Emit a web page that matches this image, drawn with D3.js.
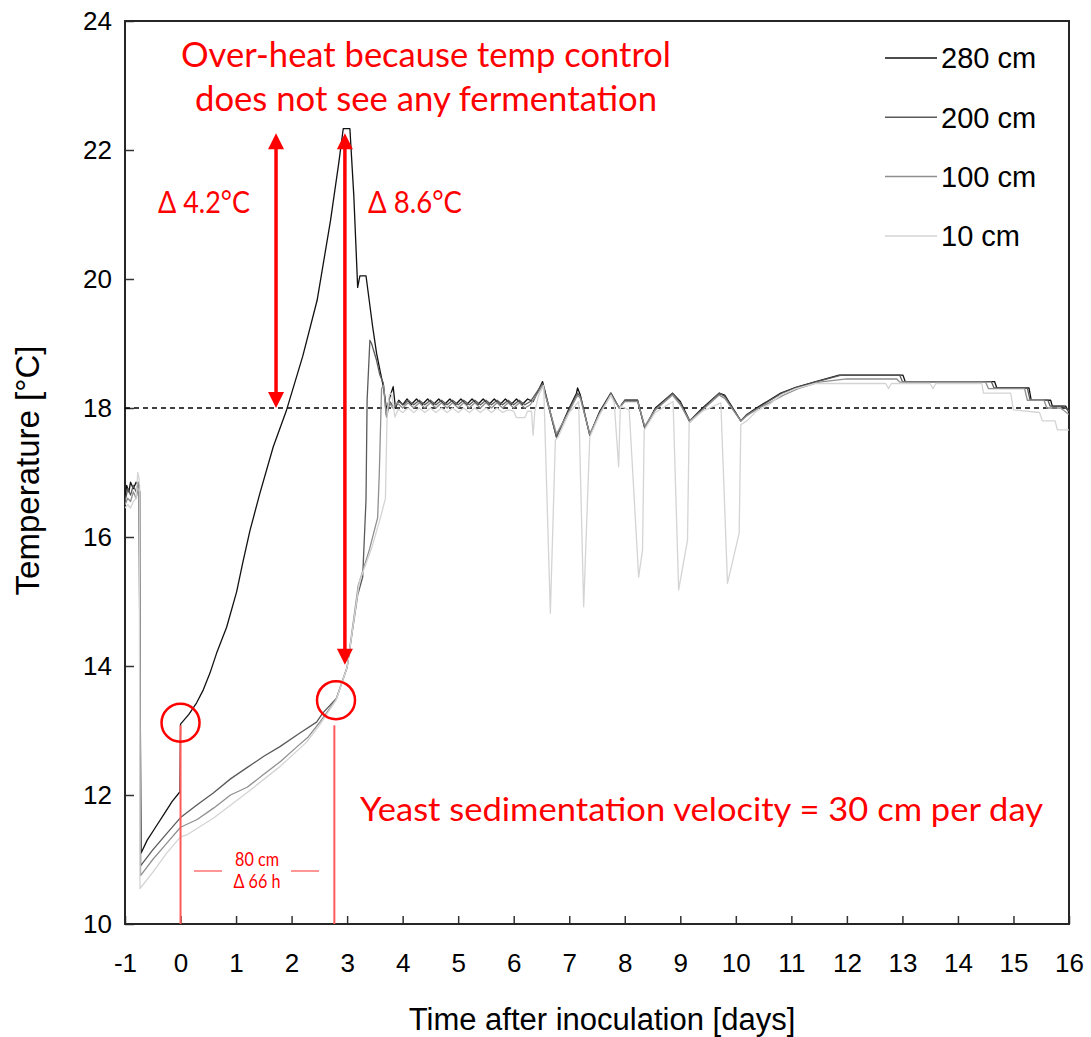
<!DOCTYPE html>
<html>
<head>
<meta charset="utf-8">
<script src="https://cdn.jsdelivr.net/npm/d3@7"></script>
<style>
  body { margin: 0; background: #fff; }
</style>
</head>
<body>
<div class="chart"></div>
<script>

/////////////DATA (day, °C)//////////////////////////////

var labels = ['280 cm', '200 cm', '100 cm', '10 cm'];
var colors = ['#111111', '#5a5a5a', '#8f8f8f', '#d4d4d4'];
var xTicks = d3.range(-1, 17);
var yTicks = [10, 12, 14, 16, 18, 20, 22, 24];
var setPoint = 18;

var s280 = [
  [-1.0, 16.6], [-0.97, 16.8], [-0.93, 16.7], [-0.9, 16.85], [-0.85, 16.75], [-0.8, 16.85], [-0.75, 16.8],
  [-0.71, 11.1], [-0.6, 11.3], [-0.45, 11.5], [-0.3, 11.7], [-0.15, 11.9], [-0.01, 12.05],
  [0.0, 13.1], [0.15, 13.25], [0.29, 13.43], [0.41, 13.63], [0.53, 13.89], [0.65, 14.2], [0.83, 14.6],
  [1.01, 15.15], [1.12, 15.6], [1.25, 16.1], [1.43, 16.68], [1.67, 17.4], [1.91, 17.97], [2.2, 18.8],
  [2.46, 19.67], [2.7, 20.9], [2.85, 21.8], [2.93, 22.33], [3.05, 22.33], [3.12, 21.3], [3.19, 19.87],
  [3.23, 20.05], [3.34, 20.05], [3.46, 19.26], [3.53, 18.85], [3.6, 18.55], [3.66, 18.3], [3.71, 17.97],
  [3.77, 18.17], [3.83, 18.33], [3.87, 18.0], [3.93, 18.12], [4.0, 18.05], [4.08, 18.14], [4.15, 18.05],
  [4.25, 18.14], [4.35, 18.05], [4.45, 18.14], [4.55, 18.05], [4.65, 18.14], [4.75, 18.05], [4.85, 18.14],
  [4.95, 18.05], [5.05, 18.14], [5.15, 18.05], [5.25, 18.14], [5.35, 18.05], [5.45, 18.14], [5.55, 18.05],
  [5.65, 18.14], [5.75, 18.05], [5.85, 18.14], [5.95, 18.05], [6.05, 18.14], [6.15, 18.05], [6.25, 18.14],
  [6.35, 18.1], [6.52, 18.41], [6.77, 17.55], [7.0, 18.0], [7.13, 18.23], [7.15, 18.31], [7.2, 18.2],
  [7.37, 17.58], [7.55, 17.95], [7.75, 18.23], [7.9, 18.0], [8.0, 18.12], [8.23, 18.12], [8.36, 17.69],
  [8.55, 18.0], [8.86, 18.23], [9.0, 18.1], [9.17, 17.8], [9.4, 18.0], [9.7, 18.23], [9.8, 18.2],
  [10.09, 17.8], [10.2, 17.9], [10.37, 18.0], [10.6, 18.12], [10.81, 18.23], [11.08, 18.32],
  [11.44, 18.41], [11.86, 18.51], [13.01, 18.51], [13.05, 18.41], [14.66, 18.41], [14.7, 18.31],
  [15.28, 18.31], [15.32, 18.12], [15.67, 18.12], [15.7, 18.03], [15.94, 18.03], [16.0, 17.93]
];

var s200 = [
  [-1.0, 16.55], [-0.95, 16.75], [-0.9, 16.65], [-0.85, 16.8], [-0.8, 16.7], [-0.76, 16.85], [-0.74, 16.8],
  [-0.72, 10.9], [-0.5, 11.15], [-0.25, 11.4], [0.0, 11.65], [0.3, 11.85], [0.59, 12.03], [0.9, 12.25],
  [1.19, 12.42], [1.5, 12.6], [1.79, 12.75], [2.15, 12.96], [2.45, 13.13], [2.56, 13.27], [2.81, 13.5],
  [3.0, 13.98], [3.19, 15.1], [3.28, 15.38], [3.34, 16.57], [3.36, 18.12], [3.41, 19.05], [3.44, 19.0],
  [3.53, 18.74], [3.59, 18.51], [3.65, 18.39], [3.71, 17.86], [3.77, 18.1], [3.85, 18.0], [3.92, 18.1],
  [4.02, 18.05], [4.1, 18.12], [4.2, 18.05], [4.3, 18.12], [4.4, 18.05], [4.5, 18.12], [4.6, 18.05],
  [4.7, 18.12], [4.8, 18.05], [4.9, 18.12], [5.0, 18.05], [5.1, 18.12], [5.2, 18.05], [5.3, 18.12],
  [5.4, 18.05], [5.5, 18.12], [5.6, 18.05], [5.7, 18.12], [5.8, 18.05], [5.9, 18.12], [6.0, 18.05],
  [6.1, 18.12], [6.2, 18.05], [6.3, 18.1], [6.52, 18.38], [6.77, 17.55], [7.0, 17.98], [7.15, 18.23],
  [7.2, 18.18], [7.37, 17.58], [7.55, 17.93], [7.75, 18.23], [7.9, 18.0], [8.0, 18.12], [8.23, 18.12],
  [8.36, 17.69], [8.55, 17.98], [8.86, 18.23], [9.0, 18.08], [9.17, 17.78], [9.4, 17.98], [9.7, 18.23],
  [9.8, 18.18], [10.09, 17.8], [10.2, 17.9], [10.4, 18.0], [10.62, 18.12], [10.83, 18.23], [11.1, 18.32],
  [11.46, 18.41], [11.9, 18.51], [12.95, 18.51], [13.0, 18.41], [14.6, 18.41], [14.65, 18.31],
  [15.25, 18.31], [15.3, 18.12], [15.62, 18.12], [15.66, 18.03], [15.9, 18.03], [16.0, 17.95]
];

var s100 = [
  [-1.0, 16.5], [-0.95, 16.6], [-0.9, 16.55], [-0.85, 16.7], [-0.8, 16.6], [-0.76, 16.75], [-0.73, 16.7],
  [-0.72, 10.75], [-0.5, 11.0], [-0.25, 11.25], [0.0, 11.5], [0.3, 11.62], [0.6, 11.8], [0.9, 12.0],
  [1.2, 12.12], [1.5, 12.32], [1.8, 12.52], [2.1, 12.75], [2.3, 12.9], [2.5, 13.12], [2.8, 13.48],
  [3.0, 13.98], [3.2, 15.25], [3.4, 15.8], [3.55, 16.3], [3.58, 17.0], [3.62, 18.3], [3.66, 18.35],
  [3.7, 17.9], [3.75, 18.1], [3.82, 18.0], [3.9, 18.08], [4.0, 18.0], [4.1, 18.08], [4.2, 18.0],
  [4.3, 18.08], [4.4, 18.0], [4.5, 18.08], [4.6, 18.0], [4.7, 18.08], [4.8, 18.0], [4.9, 18.08],
  [5.0, 18.0], [5.1, 18.08], [5.2, 18.0], [5.3, 18.08], [5.4, 18.0], [5.5, 18.08], [5.6, 18.0],
  [5.7, 18.08], [5.8, 18.0], [5.9, 18.08], [6.0, 18.0], [6.1, 18.08], [6.2, 18.0], [6.3, 18.05],
  [6.52, 18.35], [6.77, 17.6], [7.0, 17.95], [7.15, 18.2], [7.2, 18.15], [7.37, 17.6], [7.55, 17.92],
  [7.75, 18.2], [7.9, 18.0], [8.0, 18.1], [8.23, 18.1], [8.36, 17.72], [8.55, 17.97], [8.86, 18.2],
  [9.0, 18.05], [9.17, 17.8], [9.4, 17.97], [9.7, 18.2], [9.8, 18.15], [10.09, 17.8], [10.2, 17.88],
  [10.42, 18.0], [10.65, 18.1], [10.86, 18.2], [11.12, 18.3], [11.5, 18.4], [12.0, 18.45], [12.9, 18.45],
  [12.95, 18.4], [14.5, 18.4], [14.55, 18.3], [15.2, 18.3], [15.25, 18.12], [15.55, 18.12],
  [15.6, 18.0], [15.85, 18.0], [16.0, 17.9]
];

var s10 = [
  [-1.0, 16.45], [-0.95, 16.5], [-0.9, 16.45], [-0.85, 16.55], [-0.8, 16.6], [-0.77, 17.0], [-0.745, 16.9],
  [-0.73, 10.55], [-0.5, 10.8], [-0.25, 11.1], [0.0, 11.35], [0.11, 11.38], [0.59, 11.64], [1.19, 12.03],
  [1.79, 12.44], [2.27, 12.82], [2.51, 13.09], [2.8, 13.47], [3.0, 13.98], [3.22, 15.3], [3.45, 15.85],
  [3.6, 16.3], [3.69, 16.6], [3.72, 17.9], [3.76, 18.2], [3.8, 18.23], [3.86, 17.86], [3.92, 17.98],
  [4.0, 17.93], [4.1, 18.0], [4.2, 17.93], [4.3, 18.0], [4.4, 17.93], [4.5, 18.0], [4.6, 17.93],
  [4.7, 18.0], [4.8, 17.93], [4.9, 18.0], [5.0, 17.93], [5.1, 18.0], [5.2, 17.93], [5.3, 18.0],
  [5.4, 17.93], [5.5, 18.0], [5.6, 17.93], [5.7, 18.0], [5.8, 17.93], [5.9, 17.97], [6.0, 17.95],
  [6.05, 17.85], [6.2, 17.85], [6.25, 17.95], [6.32, 17.95], [6.35, 17.58], [6.38, 17.95], [6.45, 18.2],
  [6.54, 18.35], [6.66, 14.82], [6.75, 17.5], [6.8, 17.55], [7.0, 17.93], [7.17, 18.1], [7.26, 14.92],
  [7.37, 17.55], [7.55, 17.9], [7.75, 18.2], [7.81, 18.08], [7.89, 17.09], [7.92, 18.03], [8.08, 17.97],
  [8.25, 15.38], [8.32, 15.8], [8.35, 17.66], [8.55, 17.93], [8.87, 18.1], [8.97, 15.18], [9.13, 15.95],
  [9.16, 17.77], [9.4, 17.95], [9.73, 18.08], [9.85, 15.28], [10.06, 16.06], [10.09, 17.74],
  [10.2, 17.8], [10.37, 17.95], [10.6, 18.05], [10.81, 18.2], [11.08, 18.3], [11.44, 18.38],
  [12.7, 18.38], [12.75, 18.3], [12.8, 18.38], [13.5, 18.38], [13.55, 18.3], [13.6, 18.38],
  [14.43, 18.38], [14.46, 18.23], [14.95, 18.23], [15.0, 17.97], [15.47, 17.93], [15.52, 17.8],
  [15.75, 17.8], [15.79, 17.66], [16.0, 17.66]
];

var series = [s280, s200, s100, s10];

/////////////CHART FRAME///////////////////////////////////////////////////////

var margin = { top: 21, right: 22, bottom: 113, left: 125 };
var width = 1091 - margin.left - margin.right;
var height = 1037 - margin.top - margin.bottom;
var axisFont = '"Liberation Sans", Arial, sans-serif';

var svg = d3.select('.chart')
  .append('svg')
  .attr('width', width + margin.left + margin.right)
  .attr('height', height + margin.top + margin.bottom)
  .style('font-family', axisFont)
  .append('g')
  .attr('transform', 'translate(' + margin.left + ',' + margin.top + ')');

var xScale = d3.scaleLinear().domain([-1, 16]).range([0, width]);
var yScale = d3.scaleLinear().domain([10, 24]).range([height, 0]);

svg.append('clipPath').attr('id', 'plot')
  .append('rect').attr('width', width).attr('height', height);

// x axis, ticks pointing inward
var xAxis = svg.append('g')
  .attr('transform', `translate(0, ${height})`)
  .call(d3.axisBottom(xScale).tickValues(xTicks).tickSizeInner(-8).tickSizeOuter(0).tickPadding(30)
    .tickFormat(d => d < 0 ? '-' + Math.abs(d) : d));

var yAxis = svg.append('g')
  .call(d3.axisLeft(yScale).tickValues(yTicks).tickSizeInner(-9).tickSizeOuter(0).tickPadding(13));

[xAxis, yAxis].forEach(g => {
  g.select('.domain').remove();
  g.selectAll('line').style('stroke', '#333').style('stroke-width', 1.5);
  g.selectAll('text').style('font-size', '26px').style('fill', '#000')
    .style('font-family', axisFont);
});

svg.append('rect')
  .attr('width', width)
  .attr('height', height)
  .style('fill', 'none')
  .style('stroke', '#262626')
  .style('stroke-width', 2);

svg.append('text')
  .attr('x', width / 2 + 5)
  .attr('y', height + 106)
  .style('text-anchor', 'middle')
  .style('font-size', '31px')
  .text('Time after inoculation [days]');

svg.append('text')
  .attr('transform', 'translate(' + (-86) + ',' + (height / 2 - 2) + ') rotate(-90)')
  .style('text-anchor', 'middle')
  .style('font-size', '33px')
  .text('Temperature [°C]');

// 18 °C set point
svg.append('line')
  .attr('x1', 0).attr('x2', width)
  .attr('y1', yScale(setPoint)).attr('y2', yScale(setPoint))
  .style('stroke', '#000')
  .style('stroke-width', 1.5)
  .style('stroke-dasharray', '5,4');

/////////////SERIES////////////////////////////////////////////////////////////

var line = d3.line()
  .x(d => xScale(d[0]))
  .y(d => yScale(d[1]));

svg.append('g').attr('clip-path', 'url(#plot)')
  .selectAll('.line')
  .data(series)
  .enter()
  .append('path')
  .attr('class', 'line')
  .attr('d', d => line(d))
  .style('stroke', (d, i) => colors[i])
  .style('stroke-width', 1.3)
  .style('fill', 'none')
  .style('stroke-linejoin', 'round');

// legend
var legend = svg.selectAll('.legend')
  .data(labels)
  .enter()
  .append('g')
  .attr('class', 'legend')
  .attr('transform', (d, i) => 'translate(760,' + (37 + i * 59.3) + ')');

legend.append('line')
  .attr('x1', 0).attr('x2', 52)
  .style('stroke', (d, i) => colors[i])
  .style('stroke-width', 1.5);

legend.append('text')
  .attr('x', 56)
  .attr('dy', '0.36em')
  .style('font-size', '29px')
  .text(d => d);

/////////////RED ANNOTATIONS///////////////////////////////////////////////////

var red = '#ff0000';
var note = svg.append('g').style('font-family', 'Lato, "Open Sans", sans-serif').style('fill', red);

// Calibri is narrower than Lato, so each string is held to its width in the picture
function redText(txt, x, y, size, len) {
  note.append('text')
    .attr('x', x).attr('y', y)
    .attr('textLength', len)
    .attr('lengthAdjust', 'spacingAndGlyphs')
    .style('font-size', size + 'px')
    .style('text-anchor', 'middle')
    .text(txt);
}

redText('Over-heat because temp control', 301, 46, 34, 490);
redText('does not see any fermentation', 301, 90, 34, 462);
redText('Δ 4.2°C', 79, 192, 30, 92);
redText('Δ 8.6°C', 290, 192, 30, 94);
redText('Yeast sedimentation velocity = 30 cm per day', 576.5, 800, 33, 683);
redText('80 cm', 132, 845, 19, 44);
redText('Δ 66 h', 132, 867, 19, 47);

// double arrows
var arrows = [
  { day: 1.72, top: 22.26, bottom: 18.0 },
  { day: 2.96, top: 22.26, bottom: 14.02 }
];

arrows.forEach(a => {
  var ax = xScale(a.day), y1 = yScale(a.top), y2 = yScale(a.bottom);
  note.append('line')
    .attr('x1', ax).attr('x2', ax)
    .attr('y1', y1 + 12).attr('y2', y2 - 12)
    .style('stroke', red).style('stroke-width', 3.5);
  note.append('path')
    .attr('d', `M${ax},${y1} L${ax - 8},${y1 + 16} L${ax + 8},${y1 + 16} Z M${ax},${y2} L${ax - 8},${y2 - 16} L${ax + 8},${y2 - 16} Z`)
    .style('fill', red);
});

// 80 cm / 66 h marker
[0, 2.77].forEach(d => {
  note.append('line')
    .attr('x1', xScale(d)).attr('x2', xScale(d))
    .attr('y1', yScale(13.08)).attr('y2', height)
    .style('stroke', '#ff5a5a').style('stroke-width', 2);
});
[[69, 97], [166, 194]].forEach(p => {
  note.append('line')
    .attr('x1', p[0]).attr('x2', p[1])
    .attr('y1', 850).attr('y2', 850)
    .style('stroke', '#ff7373').style('stroke-width', 1.5);
});

// circles round the two onsets
[[0, 13.12], [2.8, 13.47]].forEach(c => {
  note.append('circle')
    .attr('cx', xScale(c[0])).attr('cy', yScale(c[1]))
    .attr('r', 19)
    .style('fill', 'none')
    .style('stroke', red)
    .style('stroke-width', 2.5);
});

</script>
</body>
</html>
